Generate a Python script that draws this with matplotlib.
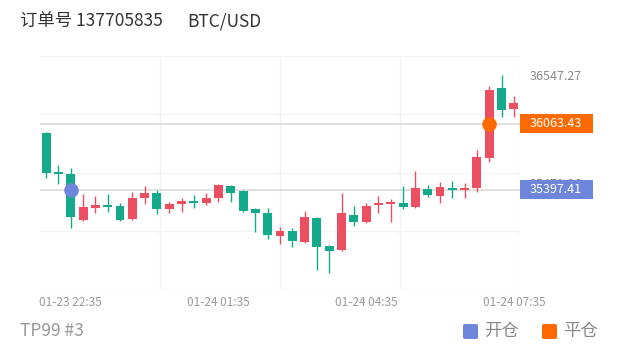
import numpy as np
import matplotlib
matplotlib.use("Agg")
import matplotlib.pyplot as plt
from matplotlib.patches import Rectangle, FancyBboxPatch

plt.rcParams['font.family'] = ['Noto Sans CJK SC', 'DejaVu Sans']

# 15-min candles, 01-23 22:05 .. 01-24 07:35
opens = [35968.5, 35567.7, 35557.7, 35096.8, 35217.0, 35247.1, 35237.1, 35106.8, 35317.2, 35367.3,
         35207.0, 35257.1, 35287.2, 35267.1, 35317.2, 35437.5, 35387.4, 35207.0, 35166.9, 34936.5,
         34986.6, 34876.4, 35116.8, 34836.3, 34796.2, 35146.9, 35076.8, 35247.1, 35257.1, 35267.1,
         35227.1, 35407.4, 35337.3, 35417.5, 35397.4, 35417.5, 35718.1, 36419.5, 36209.0]
closes = [35567.7, 35557.7, 35126.9, 35227.1, 35247.1, 35227.1, 35096.8, 35317.2, 35367.3, 35207.0,
          35257.1, 35287.2, 35267.1, 35317.2, 35447.5, 35367.3, 35187.0, 35166.9, 34946.5, 34986.6,
          34886.4, 35126.9, 34826.3, 34786.2, 35166.9, 35076.8, 35237.1, 35267.1, 35277.2, 35227.1,
          35417.5, 35347.3, 35427.5, 35397.4, 35417.5, 35728.1, 36399.4, 36199.0, 36269.1]
highs = [35978.6, 35647.9, 35617.8, 35357.3, 35337.3, 35357.3, 35267.1, 35377.4, 35437.5, 35397.4,
         35277.2, 35317.2, 35347.3, 35367.3, 35457.5, 35447.5, 35397.4, 35217.0, 35217.0, 35026.7,
         35016.6, 35187.0, 35126.9, 34846.3, 35367.3, 35237.1, 35267.1, 35337.3, 35307.2, 35437.5,
         35587.8, 35447.5, 35477.6, 35487.6, 35467.5, 35798.2, 36439.5, 36547.27, 36339.3]
lows = [35517.6, 35457.5, 35016.6, 35086.8, 35166.9, 35177.0, 35086.8, 35096.8, 35257.1, 35156.9,
        35166.9, 35177.0, 35217.0, 35247.1, 35277.2, 35277.2, 35177.0, 34976.6, 34906.4, 34856.3,
        34826.3, 34866.3, 34595.8, 34565.7, 34786.2, 35036.7, 35066.8, 35166.9, 35076.8, 35207.0,
        35217.0, 35327.3, 35267.1, 35317.2, 35317.2, 35377.4, 35678.0, 36128.9, 36128.9]

tick_idx = [2, 14, 26, 38]
tick_labels = ["01-23 22:35", "01-24 01:35", "01-24 04:35", "01-24 07:35"]
axis_prices = [35471.26, 36547.27]

open_idx, open_price = 2, 35397.41
close_idx, close_price = 36, 36063.43

UP = '#ec4f62'
DOWN = '#13a98a'
BLUE = '#6d86dc'
ORANGE = '#ff6a00'

W, H = 620, 352
fig = plt.figure(figsize=(W / 100, H / 100), dpi=100)
ax = fig.add_axes([40 / W, (H - 289) / H, 480 / W, 233 / H])

ax.set_xlim(-0.5, len(opens) - 0.5)
ax.set_ylim(34405.4, 36740.1)

# faint grid at quarters of the plot area
x0, x1 = ax.get_xlim()
y0, y1 = ax.get_ylim()
for f in [0.25, 0.5, 0.75, 1.0]:
    ax.axvline(x0 + f * (x1 - x0), color='#f3f3f3', lw=1, zorder=0)
for f in [0.0, 0.25, 0.5, 0.75, 1.0]:
    ax.axhline(y0 + f * (y1 - y0), color='#f3f3f3', lw=1, zorder=0)

# open / close reference lines
ax.axhline(open_price, color='#dadada', lw=1.2, zorder=1)
ax.axhline(close_price, color='#dadada', lw=1.2, zorder=1)

bw = 0.72
min_h = (y1 - y0) / 233 * 2.0
for i, (o, c, hi, lo) in enumerate(zip(opens, closes, highs, lows)):
    col = UP if c >= o else DOWN
    ax.vlines(i, lo, hi, color=col, lw=1.0, zorder=2)
    ax.add_patch(Rectangle((i - bw / 2, min(o, c)), bw, max(abs(c - o), min_h),
                           color=col, lw=0, zorder=3))

ax.scatter([open_idx], [open_price], s=110, color=BLUE, zorder=5, lw=0)
ax.scatter([close_idx], [close_price], s=110, color=ORANGE, zorder=5, lw=0)

for s in ax.spines.values():
    s.set_visible(False)
ax.set_xticks(tick_idx)
ax.set_xticklabels(tick_labels)
ax.yaxis.tick_right()
ax.set_yticks(axis_prices)
ax.set_yticklabels([f"{p:.2f}" for p in axis_prices])
ax.tick_params(axis='x', length=0, pad=5, labelsize=8.5, labelcolor='#999999')
ax.tick_params(axis='y', length=0, pad=7, labelsize=9, labelcolor='#8a8a8a')


# price tags on the right
def price_tag(price, color):
    y = ax.transData.transform((0, price))[1]
    fig.add_artist(Rectangle((520 / W, (y - 9.5) / H), 73 / W, 19 / H,
                             transform=fig.transFigure, color=color, lw=0, zorder=10))
    fig.text(530 / W, y / H, f"{price:.2f}", color='white', fontsize=9,
             ha='left', va='center', zorder=11)


price_tag(close_price, ORANGE)
price_tag(open_price, BLUE)

# title
fig.text(20 / W, 1 - 21 / H, "订单号 137705835", fontsize=12.5, color='#333333', va='center')
fig.text(187 / W, 1 - 21 / H, "BTC/USD", fontsize=12.5, color='#333333', va='center')

# footer
fig.text(20 / W, 1 - 331 / H, "TP99 #3", fontsize=12.5, color='#999999', va='center')
for lx, col, lab in [(463, BLUE, "开仓"), (542, ORANGE, "平仓")]:
    fig.add_artist(FancyBboxPatch((lx / W, (H - 339) / H), 15 / W, 15 / H,
                                  boxstyle="round,pad=0,rounding_size=0.004",
                                  transform=fig.transFigure, color=col, lw=0))
    fig.text((lx + 21) / W, 1 - 331 / H, lab, fontsize=12.5, color='#888888', va='center')

fig.savefig("out.png", dpi=100)
